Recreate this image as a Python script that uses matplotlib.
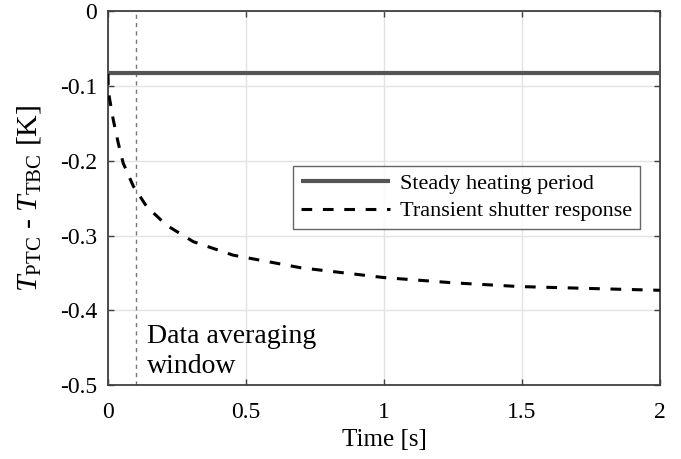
import numpy as np
import matplotlib
matplotlib.use("Agg")
import matplotlib.pyplot as plt
from matplotlib.ticker import FuncFormatter

# data
steady_level = -0.083
time_s = [0, 0.001, 0.019, 0.037, 0.055, 0.092, 0.14, 0.212, 0.309, 0.453,
          0.7, 1.0, 1.25, 1.49, 1.79, 2.0]
transient = [-0.084, -0.107, -0.145, -0.176, -0.203, -0.234, -0.261, -0.286,
             -0.308, -0.326, -0.343, -0.356, -0.363, -0.368, -0.371, -0.373]
window_end = 0.1

plt.rcParams['font.family'] = 'Liberation Serif'
plt.rcParams['mathtext.fontset'] = 'custom'
plt.rcParams['mathtext.rm'] = 'Liberation Serif'
plt.rcParams['mathtext.it'] = 'Liberation Serif:italic'
plt.rcParams['axes.unicode_minus'] = False


def main():
    figure = plt.figure(figsize=(6.81, 4.59), dpi=100, facecolor='w')
    axes = figure.add_axes([0.1586, 0.1606, 0.8106, 0.8148])

    axes.plot([0, 2], [steady_level, steady_level], color='#555555', lw=3.0,
              solid_capstyle='butt', label='Steady heating period', zorder=3)
    axes.plot(time_s, transient, color='black', lw=2.2, ls=(0, (3.5, 3.5)),
              label='Transient shutter response', zorder=3)
    axes.axvline(window_end, color='#777777', lw=1.0, ls=(0, (3, 3)), zorder=2)
    axes.text(0.141, -0.455, "Data averaging\nwindow", fontsize=20,
              va='center', ha='left', linespacing=1.25)

    axes.set_xlim(0, 2)
    axes.set_ylim(-0.5, 0)
    axes.set_xticks([0, 0.5, 1, 1.5, 2])
    axes.set_yticks([-0.5, -0.4, -0.3, -0.2, -0.1, 0])
    fmt = FuncFormatter(lambda v, p: f"{v:g}".replace('\u2212', '-'))
    axes.xaxis.set_major_formatter(fmt)
    axes.yaxis.set_major_formatter(fmt)
    axes.grid(True, color='#e3e3e3', lw=1.0)
    axes.set_axisbelow(True)
    axes.tick_params(direction='in', top=True, right=True, length=4,
                     width=1.0, color='#404040', labelsize=17)
    axes.tick_params(axis='x', pad=12)
    axes.tick_params(axis='y', pad=8)
    for spine in axes.spines.values():
        spine.set_color('#404040')
        spine.set_linewidth(1.3)

    axes.set_xlabel("Time [s]", fontsize=18, labelpad=4)
    axes.set_ylabel(r"$T_{\rm PTC}$ - $T_{\rm TBC}$ [K]", fontsize=21.5, labelpad=12)

    leg = axes.legend(loc='upper right', bbox_to_anchor=(0.9638, 0.587),
                      borderaxespad=0, fontsize=16, frameon=True, fancybox=False,
                      edgecolor='#404040', handlelength=4.0,
                      borderpad=0.35, labelspacing=0.3, handletextpad=0.45)
    leg.get_frame().set_linewidth(1.0)

    figure.savefig("out.png", dpi=100)


if __name__ == "__main__":
    main()
